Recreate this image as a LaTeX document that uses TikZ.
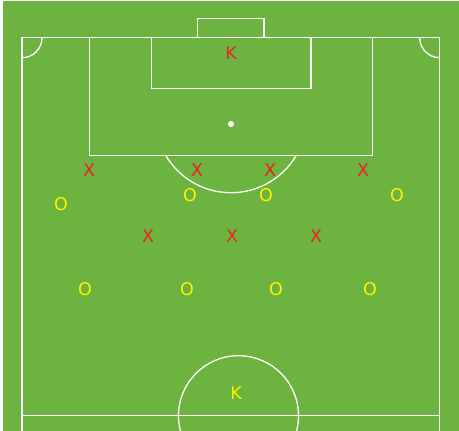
\documentclass[tikz,border=0pt]{standalone}
\usepackage{fontspec}
\setmainfont{DejaVu Sans}
\definecolor{pitch}{RGB}{109,179,63}
\definecolor{xred}{RGB}{236,34,38}
\definecolor{oyel}{RGB}{255,242,0}
\begin{document}
\begin{tikzpicture}[x=1pt,y=-1pt,
  line/.style={draw=white,line width=1.3pt},
  xpl/.style={text=xred,font=\fontsize{17.5}{18}\selectfont,inner sep=0pt},
  opl/.style={text=oyel,font=\fontsize{17.5}{18}\selectfont,inner sep=0pt}]
\useasboundingbox (0,0) rectangle (459,431);
\fill[white] (0,0) rectangle (459,431);
\fill[pitch] (3,1) rectangle (459,431);
% pitch lines
\draw[line] (22,431) -- (22,37.7) -- (439.7,37.7) -- (439.7,431);
\draw[line] (22,415.7) -- (439.7,415.7);
\draw[line] (197.7,37.7) -- (197.7,18.3) -- (264,18.3) -- (264,37.7);
\draw[line] (89.3,37.7) -- (89.3,155.3) -- (372.7,155.3) -- (372.7,37.7);
\draw[line] (151.7,37.7) -- (151.7,88.3) -- (311,88.3) -- (311,37.7);
\fill[white] (231,124) circle (3);
\begin{scope}
\clip (0,155.3) rectangle (459,431);
\draw[line] (231,117) circle (75.7);
\end{scope}
\draw[line] (22,57.7) arc[start angle=90,end angle=0,radius=20];
\draw[line] (419.7,37.7) arc[start angle=180,end angle=90,radius=20];
\begin{scope}
\clip (0,0) rectangle (459,431);
\draw[line] (238.5,415.7) circle (60);
\end{scope}
% players
\node[xpl] (kr) at (231,53) {K};
\node[xpl] (x1) at (89,170) {X};
\node[xpl] (x2) at (197,170) {X};
\node[xpl] (x3) at (270,170) {X};
\node[xpl] (x4) at (363,170) {X};
\node[xpl] (x5) at (148,236) {X};
\node[xpl] (x6) at (232,236) {X};
\node[xpl] (x7) at (316,236) {X};
\node[opl] (o1) at (61,204) {O};
\node[opl] (o2) at (190,195) {O};
\node[opl] (o3) at (266,195) {O};
\node[opl] (o4) at (397,195) {O};
\node[opl] (o5) at (85,289) {O};
\node[opl] (o6) at (187,289) {O};
\node[opl] (o7) at (276,289) {O};
\node[opl] (o8) at (370,289) {O};
\node[opl] (ky) at (236,393) {K};
\end{tikzpicture}
\end{document}
